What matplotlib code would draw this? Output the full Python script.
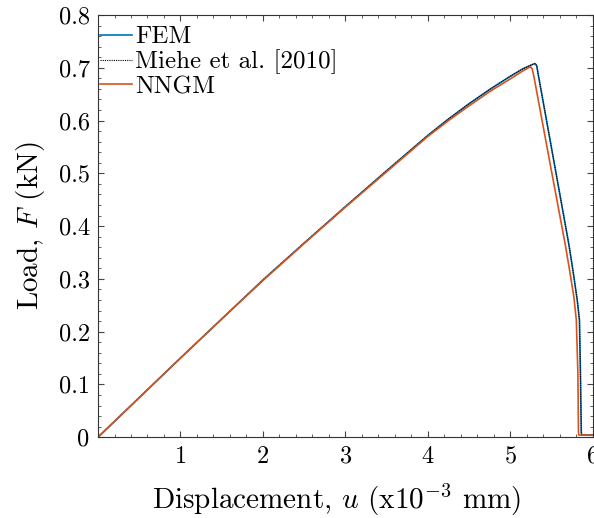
import numpy as np
import matplotlib
matplotlib.use('Agg')
import matplotlib.pyplot as plt
from matplotlib.ticker import MultipleLocator, FuncFormatter

plt.rcParams['font.family'] = 'serif'
plt.rcParams['font.serif'] = ['cmr10']
plt.rcParams['mathtext.fontset'] = 'cm'
plt.rcParams['axes.formatter.use_mathtext'] = True

# load-displacement curves (u in 1e-3 mm, F in kN)
u_fem = [0, 0.5, 1.0, 1.5, 2.0, 2.5, 3.0, 3.5, 4.0, 4.25, 4.5, 4.75, 5.0, 5.15, 5.25,
         5.28, 5.30, 5.32, 5.335, 5.52, 5.711, 5.76, 5.811, 5.838, 5.85, 5.86, 5.865, 6.0]
F_fem = [0, 0.075, 0.150, 0.224, 0.298, 0.368, 0.437, 0.505, 0.572, 0.603, 0.632, 0.659,
         0.684, 0.698, 0.705, 0.707, 0.708, 0.704, 0.690, 0.530, 0.364, 0.315, 0.260,
         0.222, 0.121, 0.010, 0.004, 0.004]

# Miehe et al. [2010] reference result lies on top of the FEM curve
u_miehe = u_fem
F_miehe = F_fem

u_nngm = [0, 0.5, 1.0, 1.5, 2.0, 2.5, 3.0, 3.5, 4.0, 4.25, 4.5, 4.75, 5.0, 5.15, 5.22,
          5.245, 5.265, 5.285, 5.48, 5.667, 5.72, 5.77, 5.80, 5.819, 5.826, 5.83, 6.0]
F_nngm = [0, 0.075, 0.150, 0.224, 0.297, 0.367, 0.436, 0.503, 0.570, 0.600, 0.628, 0.655,
          0.679, 0.694, 0.700, 0.702, 0.698, 0.684, 0.520, 0.364, 0.315, 0.266,
          0.222, 0.121, 0.010, 0.004, 0.004]

fig = plt.figure(figsize=(5.94, 5.18), dpi=100)
ax = fig.add_axes([0.165, 0.156, 0.833, 0.815])

ax.plot(u_fem, F_fem, color='#0072BD', lw=1.2, label='FEM')
ax.plot(u_miehe, F_miehe, color='k', lw=0.8, ls=(0, (1, 1)), label='Miehe et al. [2010]')
ax.plot(u_nngm, F_nngm, color='#D95319', lw=1.2, label='NNGM')

ax.set_xlim(0, 6)
ax.set_ylim(0, 0.8)
ax.set_xticks([1, 2, 3, 4, 5, 6])
ax.xaxis.set_minor_locator(MultipleLocator(0.2))
ax.yaxis.set_major_locator(MultipleLocator(0.1))
ax.yaxis.set_minor_locator(MultipleLocator(0.02))
ax.yaxis.set_major_formatter(FuncFormatter(lambda v, p: '%g' % round(v, 2)))

ax.tick_params(which='both', direction='in', top=True, right=True, colors='#444444',
               labelcolor='k', labelsize=17.5, pad=6)
ax.tick_params(which='major', length=4, width=0.8)
ax.tick_params(which='minor', length=2.3, width=0.6)
for s in ax.spines.values():
    s.set_color('#333333')
    s.set_linewidth(0.8)

ax.set_xlabel(r'Displacement, $u$ (x$10^{-3}$ mm)', fontsize=21)
ax.xaxis.set_label_coords(0.482, -0.105)
ax.set_ylabel(r'Load, $F$ (kN)', fontsize=21, labelpad=8)

ax.legend(loc='upper left', bbox_to_anchor=(0.004, 0.974), frameon=False, fontsize=18,
          handlelength=1.3, handletextpad=0.1, labelspacing=0.05,
          borderaxespad=0, borderpad=0)

fig.savefig('out.png', dpi=100)
